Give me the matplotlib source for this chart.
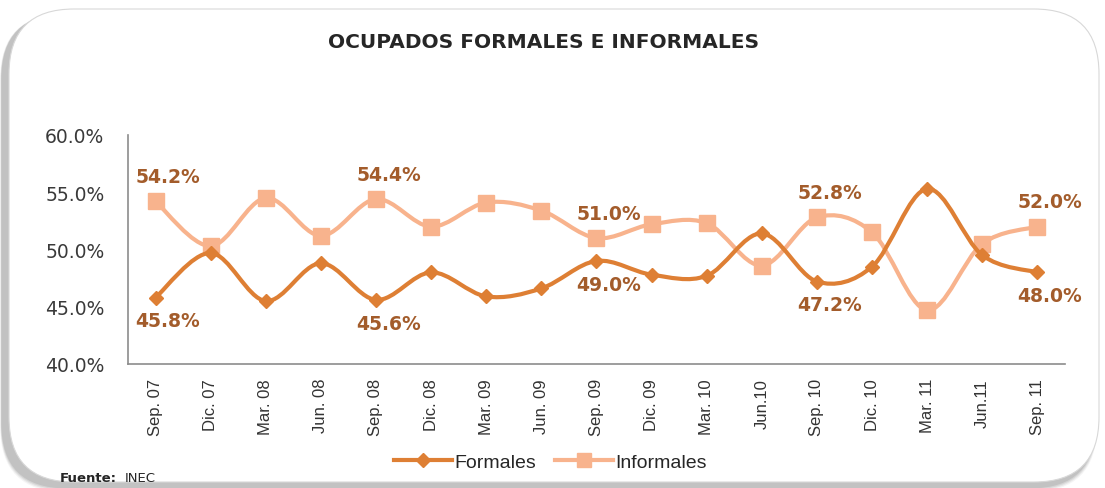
import matplotlib
matplotlib.use('Agg')
import matplotlib.pyplot as plt
import numpy as np
from matplotlib.path import Path
from matplotlib.patches import PathPatch, FancyBboxPatch
from matplotlib.lines import Line2D

periods = ['Sep. 07', 'Dic. 07', 'Mar. 08', 'Jun. 08', 'Sep. 08', 'Dic. 08',
           'Mar. 09', 'Jun. 09', 'Sep. 09', 'Dic. 09', 'Mar. 10', 'Jun.10',
           'Sep. 10', 'Dic. 10', 'Mar. 11', 'Jun.11', 'Sep. 11']
formales = [45.8, 49.7, 45.5, 48.8, 45.6, 48.0, 45.9, 46.6, 49.0, 47.8, 47.7,
            51.4, 47.2, 48.5, 55.3, 49.5, 48.0]
informales = [54.2, 50.3, 54.5, 51.2, 54.4, 52.0, 54.1, 53.4, 51.0, 52.2, 52.3,
              48.6, 52.8, 51.5, 44.7, 50.5, 52.0]
labelled = [0, 4, 8, 12, 16]

c_form = '#DE7F34'
c_inf = '#F8B38D'
c_lab = '#A35C2B'
narrow = ['Liberation Sans Narrow', 'Liberation Sans', 'DejaVu Sans']


def smooth_path(xs, ys):
    # excel-like smoothed line: catmull-rom segments as cubic beziers
    pts = np.column_stack([xs, ys]).astype(float)
    n = len(pts)
    verts = [pts[0]]
    codes = [Path.MOVETO]
    for i in range(n - 1):
        p0 = pts[max(i - 1, 0)]
        p1 = pts[i]
        p2 = pts[i + 1]
        p3 = pts[min(i + 2, n - 1)]
        verts += [p1 + (p2 - p0) / 6, p2 - (p3 - p1) / 6, p2]
        codes += [Path.CURVE4] * 3
    return Path(verts, codes)


fig = plt.figure(figsize=(11.05, 4.89), dpi=100, facecolor='white')

# card background with soft shadow
for k, a in enumerate([0.08, 0.12, 0.16, 0.22]):
    d = 0.06 - k * 0.012
    fig.patches.append(FancyBboxPatch(
        (0.02 - d * 0.3, 0.02 - d), 10.93 + d * 0.6, 4.72 + d,
        boxstyle='round,pad=0,rounding_size=0.65', transform=fig.dpi_scale_trans,
        facecolor='#808080', edgecolor='none', alpha=a, zorder=-3))
fig.patches.append(FancyBboxPatch(
    (0.09, 0.06), 10.9, 4.73, boxstyle='round,pad=0,rounding_size=0.65',
    transform=fig.dpi_scale_trans, facecolor='white', edgecolor='#d8d8d8',
    linewidth=0.8, zorder=-2))

ax = fig.add_axes([0.1158, 0.2536, 0.8480, 0.4683])
ax.set_facecolor('none')
x = np.arange(len(periods))

ax.add_patch(PathPatch(smooth_path(x, formales), facecolor='none', edgecolor=c_form,
                       lw=3.0, capstyle='round', joinstyle='round', zorder=3))
ax.plot(x, formales, ls='none', marker='D', ms=7.5, color=c_form, zorder=4)
ax.add_patch(PathPatch(smooth_path(x, informales), facecolor='none', edgecolor=c_inf,
                       lw=3.0, capstyle='round', joinstyle='round', zorder=2))
ax.plot(x, informales, ls='none', marker='s', ms=11.5, color=c_inf, zorder=2.5)

for i in labelled:
    ax.annotate(f'{informales[i]:.1f}%', (x[i], informales[i]), xytext=(9, 11),
                textcoords='offset points', ha='center', va='bottom',
                fontsize=13.5, fontweight='bold', color=c_lab)
    ax.annotate(f'{formales[i]:.1f}%', (x[i], formales[i]), xytext=(9, -10),
                textcoords='offset points', ha='center', va='top',
                fontsize=13.5, fontweight='bold', color=c_lab)

ax.set_xlim(-0.5, len(periods) - 0.5)
ax.set_ylim(40, 60)
ax.set_yticks([40, 45, 50, 55, 60])
ax.set_yticklabels([f'{v:.1f}%' for v in [40, 45, 50, 55, 60]],
                   fontsize=13.5, color='#3a3a3a')
ax.set_xticks(x)
ax.set_xticklabels(periods, rotation=90, fontsize=12, color='#333333',
                   family=narrow)
ax.tick_params(axis='both', length=0)
ax.tick_params(axis='y', pad=17)
ax.tick_params(axis='x', pad=10)
for s in ['top', 'right']:
    ax.spines[s].set_visible(False)
for s in ['left', 'bottom']:
    ax.spines[s].set_color('#8c8c8c')
    ax.spines[s].set_linewidth(1.2)

fig.text(0.492, 0.913, 'OCUPADOS FORMALES E INFORMALES', ha='center', va='center',
         fontsize=14.5, fontweight='bold', color='#262626')

handles = [Line2D([], [], color=c_form, lw=3, marker='D', ms=7.5),
           Line2D([], [], color=c_inf, lw=3, marker='s', ms=10.5)]
fig.legend(handles, ['Formales', 'Informales'], loc='center',
           bbox_to_anchor=(0.498, 0.053), ncol=2, frameon=False,
           handlelength=3.0, handletextpad=0.1, columnspacing=1.0,
           prop={'family': narrow, 'size': 14}, labelcolor='#262626')

fig.text(0.054, 0.022, 'Fuente:', fontsize=9.5, fontweight='bold',
         color='#262626', ha='left', va='center')
fig.text(0.113, 0.022, 'INEC', fontsize=9.5, color='#262626', ha='left', va='center')

fig.savefig('out.png', dpi=100, facecolor='white')
